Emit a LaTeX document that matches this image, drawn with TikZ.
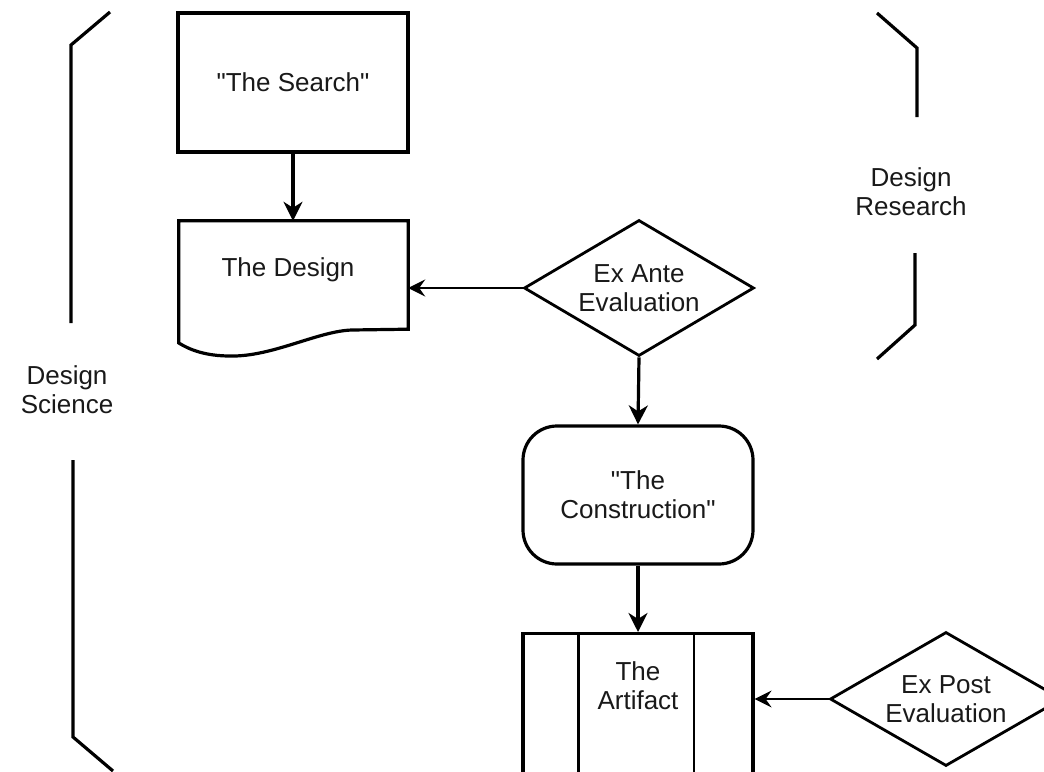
\documentclass[tikz,border=0pt]{standalone}
\usepackage{fontspec}
\setmainfont{Liberation Sans}
\usetikzlibrary{shapes.geometric,arrows.meta,calc}

\begin{document}
\begin{tikzpicture}[x=1pt,y=-1pt,
  every node/.style={font=\fontsize{26}{29}\selectfont, align=center, text=black!90},
  frame/.style={draw, line width=3.2pt},
  decision/.style={diamond, draw, line width=2.8pt, inner sep=0pt, aspect=1.7},
  bigarrow/.style={line width=3.2pt, -{Stealth[length=19pt, width=19pt, inset=6pt]}},
  smallarrow/.style={line width=1.8pt, -{Stealth[length=17pt, width=17pt, inset=6pt]}},
  bracket/.style={line width=3.2pt, line join=miter}
]
\useasboundingbox (0,0) rectangle (1044,771);
\clip (0,0) rectangle (1044,771);

% process boxes
\node[frame, minimum width=230pt, minimum height=139pt] (search) at (293,82.5) {\textquotedbl The Search\textquotedbl};

% document shape with a wavy bottom edge
\node[minimum width=229pt, minimum height=108pt, inner sep=0pt] (design) at (293.5,275) {};
\draw[frame, line join=miter] (design.north west) -- (design.north east) -- (design.south east)
  -- (352,330) .. controls (318,331) and (272,357) .. (230,356)
  .. controls (206,356) and (190,350) .. (design.south west |- 0,343) -- cycle;
\node (designtext) at (288,270) {The Design};

\node[decision, minimum width=230pt, minimum height=136pt] (exante) at (639,288) {Ex Ante\\Evaluation};

\node[frame, rounded corners=34pt, minimum width=230pt, minimum height=138pt] (construct) at (638,495) {\textquotedbl The\\Construction\textquotedbl};

% predefined-process box, running past the lower edge
\node[frame, minimum width=230pt, minimum height=170pt, anchor=north] (artifact) at (638,632) {};
\draw[line width=3.2pt] ($(artifact.north west)+(57,0)$) -- ($(artifact.south west)+(57,0)$);
\draw[line width=2pt] ($(artifact.north west)+(173,0)$) -- ($(artifact.south west)+(173,0)$);
\node (artifacttext) at (638,686) {The\\Artifact};

\node[decision, minimum width=232pt, minimum height=134pt] (expost) at (946,699) {Ex Post\\Evaluation};

% connectors
\draw[bigarrow] (search.south) -- (search.south |- design.north);
\draw[smallarrow] (exante.west) -- (exante.west -| design.east);
\draw[bigarrow] (exante.south) -- (construct.north);
\draw[bigarrow] (construct.south) -- (artifact.north);
\draw[smallarrow] (expost.west) -- (expost.west -| artifact.east);

% side brackets and their labels
\node (science) at (67,390) {Design\\Science};
\draw[bracket] (110,12) -- (71,45) -- (71,323);
\draw[bracket] (73,460) -- (73,737) -- (113,771);

\node (research) at (911,192) {Design\\Research};
\draw[bracket] (877,13) -- (917,48) -- (917,117);
\draw[bracket] (915,253) -- (915,325) -- (877,359);
\end{tikzpicture}
\end{document}
